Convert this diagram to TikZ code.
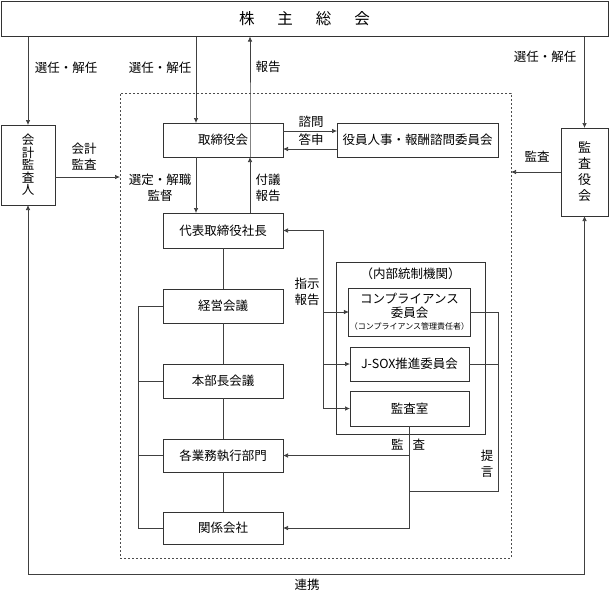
\documentclass[tikz,border=0pt]{standalone}
\usepackage{fontspec}
\setmainfont{Noto Sans CJK JP}
\usetikzlibrary{positioning}
\usetikzlibrary{arrows.meta}
\tikzset{
  box/.style={draw=black!80, line width=0.8pt, outer sep=0pt, inner sep=1pt,
    minimum width=120pt, minimum height=34pt, align=center,
    font=\fontsize{12.5}{13.5}\selectfont},
  lbl/.style={inner sep=0pt, align=center, font=\fontsize{12.5}{16}\selectfont},
  conn/.style={draw=black!75, line width=0.7pt},
}
\begin{document}
\begin{tikzpicture}[x=1pt,y=-1pt,>={Latex[length=5pt,width=4.5pt]}]
\useasboundingbox (0,0) rectangle (609,592);

% Shareholders and outer bodies
\node[box, minimum width=607pt, minimum height=35pt, font=\fontsize{15.5}{17}\selectfont] (gsm) at (304.5,19) {株\hspace{23pt}主\hspace{23pt}総\hspace{23pt}会};
\node[box, minimum width=54pt, minimum height=80pt, font=\fontsize{12.5}{12.5}\selectfont] (auditor) at (28,165) {会\\計\\監\\査\\人};
\node[box, minimum width=47pt, minimum height=88pt, font=\fontsize{13}{16}\selectfont] (kansa) at (584.5,172) {監\\査\\役\\会};

% Scope of internal control (dashed)
\node[draw=black!70, line width=0.9pt, dash pattern=on 2pt off 2pt, outer sep=0pt, minimum width=391pt, minimum height=465pt] (scope) at (315.5,325.5) {};

% Executive chain
\node[box] (board) at (223,140) {取締役会};
\node[box, minimum width=161pt] (advisory) at (417.5,140) {役員人事・報酬諮問委員会};
\node[box, minimum height=35pt] (ceo) at (223,230.5) {代表取締役社長};
\node[box] (mgmt) at (223,306) {経営会議};
\node[box] (honbu) at (223,381) {本部長会議};
\node[box, minimum height=33pt] (depts) at (223,455.5) {各業務執行部門};
\node[box, minimum height=32pt] (affil) at (223,528) {関係会社};

% Internal control bodies
\node[box, minimum width=149pt, minimum height=172pt] (icbox) at (410.5,348) {};
\node[lbl] (iclabel) at (410.5,274) {（内部統制機関）};
\node[box, minimum width=119pt, minimum height=48pt] (comp) at (409.5,312) {コンプライアンス\\委員会\\[-1pt]{\fontsize{8}{9}\selectfont （コンプライアンス管理責任者）}};
\node[box, minimum width=119pt] (jsox) at (409.5,364) {J-SOX推進委員会};
\node[box, minimum width=119pt, minimum height=35pt] (auditroom) at (409.5,408.5) {監査室};

% Helper coordinates
\coordinate (bL) at ([xshift=-27pt]board.north);
\coordinate (bR) at ([xshift=27pt]board.north);
\coordinate (aE) at ([yshift=-12pt]auditor.east);
\coordinate (brk) at (138,0);
\coordinate (ctl) at (323,0);
\coordinate (teigen) at (498,491);
\coordinate (renkei) at (0,574);

% Election / dismissal and reporting
\draw[conn,->] (gsm.south -| auditor.north) -- (auditor.north);
\draw[conn,->] (bL |- gsm.south) -- (bL);
\draw[conn,->] (bR |- board.south) -- (bR |- board.north) -- (bR |- gsm.south);
\draw[conn,->] (gsm.south -| kansa.north) -- (kansa.north);
\node[lbl] (l1) at (66,68) {選任・解任};
\node[lbl] (l2) at (160,68) {選任・解任};
\node[lbl] (l3) at (268,67) {報告};
\node[lbl] (l4) at (545,57) {選任・解任};

% Audits from outside
\draw[conn,->] (aE) -- (aE -| scope.west);
\node[lbl] (l5) at (84,157) {会計\\監査};
\draw[conn,->] (kansa.west) -- (kansa.west -| scope.east);
\node[lbl] (l6) at (537,157) {監査};

% Board and advisory committee
\draw[conn,->] ([yshift=9pt]board.east) -- ([yshift=9pt]advisory.west);
\draw[conn,->] ([yshift=-9pt]advisory.west) -- ([yshift=-9pt]board.east);
\node[lbl] (l7) at (311,122) {諮問};
\node[lbl] (l8) at (311,140) {答申};

% Board and president
\draw[conn,->] (bL |- board.south) -- (bL |- ceo.north);
\draw[conn,->] (bR |- ceo.north) -- (bR |- board.south);
\node[lbl] (l9) at (160,188) {選定・解職\\監督};
\node[lbl] (l10) at (268,188) {付議\\報告};

% Line organisation
\draw[conn] (ceo) -- (mgmt) -- (honbu) -- (depts) -- (affil);
\draw[conn] (mgmt.west) -- (mgmt.west -| brk) -- (affil.west -| brk) -- (affil.west);
\draw[conn] (honbu.west -| brk) -- (honbu.west);
\draw[conn] (depts.west -| brk) -- (depts.west);

% Instructions and reports
\draw[conn,<->] (ceo.east) -- (ceo.east -| ctl) -- (ctl |- auditroom.west) -- (auditroom.west);
\draw[conn,->] (ctl |- comp.west) -- (comp.west);
\draw[conn,->] (ctl |- jsox.west) -- (jsox.west);
\node[lbl] (l11) at (307,292) {指示\\報告};

% Proposals
\draw[conn] (comp.east) -- (comp.east -| teigen) -- (teigen) -- (teigen -| auditroom.south);
\draw[conn] (jsox.east) -- (jsox.east -| teigen);
\node[lbl] (l12) at (487,464) {提\\言};

% Internal audit
\draw[conn,->] (auditroom.south) -- (auditroom.south |- affil.east) -- (affil.east);
\draw[conn,->] (auditroom.south |- depts.east) -- (depts.east);
\node[lbl] (l13) at (408,445) {監\hspace{9pt}査};

% Cooperation
\draw[conn,<->] (auditor.south) -- (auditor.south |- renkei) -- (kansa.south |- renkei) -- (kansa.south);
\node[lbl] (l14) at (307,585) {連携};
\end{tikzpicture}
\end{document}
